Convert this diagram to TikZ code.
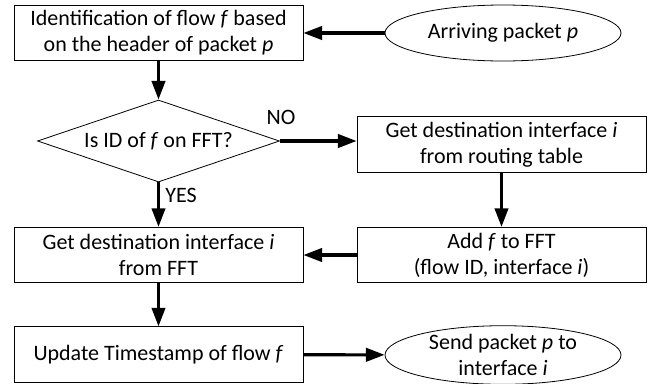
\documentclass[tikz,border=0pt]{standalone}
\usepackage{fontspec}
\setmainfont{Carlito}
\usepackage{tikz}
\usetikzlibrary{arrows.meta,shapes.geometric}
\tikzset{
	stepbox/.style={draw, line width=0.6pt, minimum width=216.75pt, minimum height=41.5pt, align=center, inner sep=0pt},
	endcap/.style={draw, ellipse, line width=0.6pt, minimum width=177pt, minimum height=42pt, align=center, inner sep=0pt},
	question/.style={draw, diamond, aspect=2.95, line width=0.6pt, minimum width=181.5pt, minimum height=61.5pt, inner sep=0pt},
	flow/.style={line width=2.3pt, -{Triangle[length=14pt, width=10pt]}},
	tag/.style={inner sep=0pt}
}

\begin{document}
\begin{tikzpicture}[x=0.75pt, y=-0.75pt, font=\fontsize{16.5}{19.5}\selectfont]
			%%%%% START %%%%%
			
			\useasboundingbox (0, 0) rectangle (648, 383);
			
			\node[stepbox] (ident) at (158.5, 33) {Identification of flow \textit{f} based\\on the header of packet \textit{p}};
			\node[endcap] (arrive) at (503, 33) {Arriving packet \textit{p}};
			
			\node[question] (check) at (158.5, 141) {Is ID of \textit{f} on FFT?};
			\node[stepbox] (route) at (501.5, 144.5) {Get destination interface \textit{i}\\from routing table};
			
			\node[stepbox] (lookup) at (158.5, 255) {Get destination interface \textit{i}\\from FFT};
			\node[stepbox] (add) at (501.5, 255) {Add \textit{f} to FFT\\(flow ID, interface \textit{i})};
			
			\node[stepbox] (update) at (158.5, 354.5) {Update Timestamp of flow \textit{f}};
			\node[endcap] (send) at (503, 355) {Send packet \textit{p} to\\interface \textit{i}};
			
			\node[tag] (no) at (281, 117) {NO};
			\node[tag] (yes) at (181, 195) {YES};
			
			\draw[flow] (arrive) -- (ident);
			\draw[flow] (ident) -- (check);
			\draw[flow] (check.east) -- (check.east -| route.west);
			\draw[flow] (check) -- (lookup);
			\draw[flow] (route.south -| add.north) -- (add.north);
			\draw[flow] (add) -- (lookup);
			\draw[flow] (lookup) -- (update);
			\draw[flow] (update) -- (send);
			
			%%%%% END %%%%%
		\end{tikzpicture}
\end{document}
